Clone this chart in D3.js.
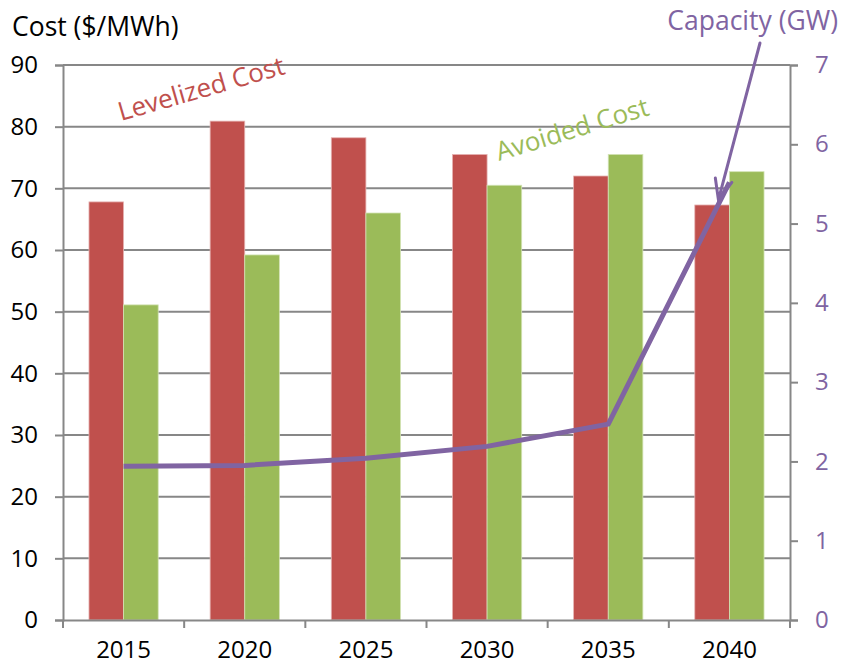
<!DOCTYPE html>
<html>
<head>
<meta charset="utf-8">
<script src="https://cdn.jsdelivr.net/npm/d3@7"></script>
<style>
  body { margin: 0; background: #fff; }
  text { font-family: "Open Sans", sans-serif; }
</style>
</head>
<body>
<svg id="chart"></svg>
<script>
(function () {

    var years = ["2015", "2020", "2025", "2030", "2035", "2040"];
    var levelizedCost = [67.8, 80.9, 78.2, 75.5, 72.0, 67.3];
    var avoidedCost = [51.1, 59.2, 66.0, 70.5, 75.5, 72.7];
    var capacity = [1.94, 1.95, 2.04, 2.19, 2.47, 5.52];
    var costTicks = [0, 10, 20, 30, 40, 50, 60, 70, 80, 90];
    var capTicks = [0, 1, 2, 3, 4, 5, 6, 7];

    var width = 842;
    var height = 666;
    var plotLeft = 63;
    var plotRight = 790;
    var plotTop = 65;
    var plotBottom = 620;

    var red = "#C0504D";
    var green = "#9BBB59";
    var purple = "#8064A2";
    var gridColor = "#878787";

    var svg = d3.select("#chart")
        .attr("width", width)
        .attr("height", height);

    var x = d3.scaleBand()
        .domain(years)
        .range([plotLeft, plotRight])
        .padding(0);
    // excel gap width 150%
    var xSub = d3.scaleBand()
        .domain(["lev", "avoid"])
        .range([0, x.bandwidth()])
        .paddingInner(0)
        .paddingOuter(0.75);
    var yCost = d3.scaleLinear().domain([0, 90]).range([plotBottom, plotTop]);
    var yCap = d3.scaleLinear().domain([0, 7]).range([plotBottom, plotTop]);

    // gridlines
    svg.append("g")
        .selectAll("line")
        .data(costTicks.filter(t => t > 0))
        .enter()
        .append("line")
        .attr("x1", plotLeft)
        .attr("x2", plotRight)
        .attr("y1", d => yCost(d))
        .attr("y2", d => yCost(d))
        .attr("stroke", gridColor)
        .attr("stroke-width", 2);

    // bars
    var groups = svg.append("g")
        .selectAll("g")
        .data(years)
        .enter()
        .append("g")
        .attr("transform", d => "translate(" + x(d) + ",0)");
    groups.append("rect")
        .attr("x", xSub("lev"))
        .attr("width", xSub.bandwidth())
        .attr("y", (d, i) => yCost(levelizedCost[i]))
        .attr("height", (d, i) => plotBottom - yCost(levelizedCost[i]))
        .attr("fill", red)
        .attr("stroke", "#e6b4b3")
        .attr("stroke-width", 0.8);
    groups.append("rect")
        .attr("x", xSub("avoid"))
        .attr("width", xSub.bandwidth())
        .attr("y", (d, i) => yCost(avoidedCost[i]))
        .attr("height", (d, i) => plotBottom - yCost(avoidedCost[i]))
        .attr("fill", green)
        .attr("stroke", "#d3e3b5")
        .attr("stroke-width", 0.8);

    // axes
    var leftAxis = d3.axisLeft(yCost).tickValues(costTicks).tickSize(8).tickPadding(17);
    var rightAxis = d3.axisRight(yCap).tickValues(capTicks).tickFormat(d3.format("d"))
        .tickSize(8).tickPadding(17);
    var bottomAxis = d3.axisBottom(x).tickSize(0).tickPadding(21);

    var gLeft = svg.append("g")
        .attr("transform", "translate(" + plotLeft + ",0)")
        .call(leftAxis);
    var gRight = svg.append("g")
        .attr("transform", "translate(" + plotRight + ",0)")
        .call(rightAxis);
    var gBottom = svg.append("g")
        .attr("transform", "translate(0," + plotBottom + ")")
        .call(bottomAxis);

    [gLeft, gRight, gBottom].forEach(function (g) {
        g.select(".domain").attr("stroke", gridColor).attr("stroke-width", 2);
        g.selectAll(".tick line").attr("stroke", gridColor).attr("stroke-width", 2);
        g.selectAll("text").style("font-size", "24px").attr("fill", "#000");
    });
    gRight.selectAll("text").attr("fill", purple);

    // category tick marks at band edges
    svg.append("g")
        .selectAll("line")
        .data(years.concat(["end"]))
        .enter()
        .append("line")
        .attr("x1", d => d === "end" ? plotRight : x(d))
        .attr("x2", d => d === "end" ? plotRight : x(d))
        .attr("y1", plotBottom)
        .attr("y2", plotBottom + 8)
        .attr("stroke", gridColor)
        .attr("stroke-width", 2);

    // capacity line
    var line = d3.line()
        .x((d, i) => x(years[i]) + x.bandwidth() / 2)
        .y(d => yCap(d));
    svg.append("path")
        .attr("d", line(capacity))
        .attr("fill", "none")
        .attr("stroke", purple)
        .attr("stroke-width", 5)
        .attr("stroke-linejoin", "round");

    // titles and labels
    svg.append("text")
        .attr("x", 12)
        .attr("y", 36)
        .style("font-size", "26.5px")
        .attr("fill", "#000")
        .text("Cost ($/MWh)");
    svg.append("text")
        .attr("x", 838)
        .attr("y", 30)
        .attr("text-anchor", "end")
        .style("font-size", "26.5px")
        .attr("fill", purple)
        .text("Capacity (GW)");
    svg.append("text")
        .attr("transform", "translate(121,121) rotate(-16)")
        .style("font-size", "26px")
        .attr("fill", red)
        .text("Levelized Cost");
    svg.append("text")
        .attr("transform", "translate(499,161) rotate(-17)")
        .style("font-size", "26px")
        .attr("fill", green)
        .text("Avoided Cost");

    // arrow from capacity label to the 2040 point
    var tip = [x("2040") + x.bandwidth() / 2 - 11, yCap(5.3)];
    var start = [plotRight - 30, 43];
    var ang = Math.atan2(tip[1] - start[1], tip[0] - start[0]);
    var headLen = 22;
    var spread = 0.4;
    var arrow = d3.path();
    arrow.moveTo(start[0], start[1]);
    arrow.lineTo(tip[0], tip[1]);
    arrow.moveTo(tip[0] - headLen * Math.cos(ang - spread), tip[1] - headLen * Math.sin(ang - spread));
    arrow.lineTo(tip[0], tip[1]);
    arrow.lineTo(tip[0] - headLen * Math.cos(ang + spread), tip[1] - headLen * Math.sin(ang + spread));
    svg.append("path")
        .attr("d", arrow.toString())
        .attr("fill", "none")
        .attr("stroke", purple)
        .attr("stroke-width", 3)
        .attr("stroke-linecap", "round");

})();
</script>
</body>
</html>
